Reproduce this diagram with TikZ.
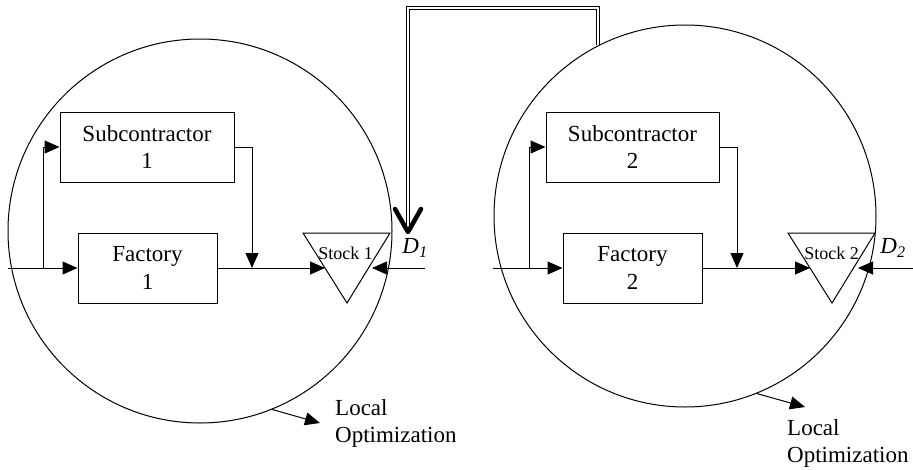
\documentclass[tikz,border=0pt]{standalone}
\usepackage{fontspec}
\setmainfont{Liberation Serif}
\usetikzlibrary{arrows.meta,calc}
\begin{document}
\begin{tikzpicture}[x={(1pt,0)}, y={(0,-1pt)},
  ln/.style={line width=1pt},
  box/.style={draw, line width=1pt, align=center, inner sep=0pt, minimum height=70pt, font=\fontsize{23}{27.6}\selectfont},
  arr/.style={ln, -{Triangle[length=15pt,width=13pt]}},
  lbl/.style={font=\fontsize{23}{27.6}\selectfont, align=left, inner sep=0pt},
  stklbl/.style={font=\fontsize{18}{21}\selectfont, inner sep=0pt},
  dlbl/.style={font=\fontsize{23}{27.6}\selectfont, inner sep=0pt},
  dbl/.style={double, line width=1pt, double distance=2.2pt},
  bigv/.style={line width=4.5pt, line cap=round, line join=round}]
\useasboundingbox (0,0) rectangle (913,469);

% circles
\node[circle, draw, ln, minimum size=384pt, inner sep=0pt] (c1) at (200,231) {};
\node[circle, draw, ln, minimum size=382pt, inner sep=0pt] (c2) at (685,216) {};

% ---------- left system ----------
\node[box, minimum width=174pt] (sub1) at (147,147) {Subcontractor\\1};
\node[box, minimum width=139pt] (fac1) at (147.5,268) {Factory\\1};
\coordinate (stk1a) at (303,233);
\coordinate (stk1b) at (390,233);
\coordinate (stk1c) at (347,303);
\draw[ln] (stk1a) -- (stk1b) -- (stk1c) -- cycle;
\node[stklbl] (stk1) at (345.5,253) {Stock 1};
\coordinate (stk1in) at ($(stk1a)!0.5!(stk1c)$);
\coordinate (stk1d) at (372,268);
\coordinate (in1) at (8,268);
\coordinate (br1) at (43,268);
\coordinate (mg1) at (252,268);
\draw[ln] (in1) -- (br1);
\draw[arr] (br1) -- (fac1.west);
\draw[arr] (br1) |- (sub1.west);
\draw[arr] (sub1.east) -| (mg1);
\draw[arr] (fac1.east) -- (stk1in);
\coordinate (d1s) at (425,268);
\draw[arr] (d1s) -- (stk1d);
\node[dlbl] (d1) at (415,248) {\textit{D}\textsubscript{\textit{1}}};

% ---------- right system ----------
\node[box, minimum width=173pt] (sub2) at (632.5,147) {Subcontractor\\2};
\node[box, minimum width=139pt] (fac2) at (632.5,268) {Factory\\2};
\coordinate (stk2a) at (788,233);
\coordinate (stk2b) at (875,233);
\coordinate (stk2c) at (832,303);
\draw[ln] (stk2a) -- (stk2b) -- (stk2c) -- cycle;
\node[stklbl] (stk2) at (831.5,253) {Stock 2};
\coordinate (stk2in) at ($(stk2a)!0.5!(stk2c)$);
\coordinate (stk2d) at (858,268);
\coordinate (in2) at (493,268);
\coordinate (br2) at (529,268);
\coordinate (mg2) at (737,268);
\draw[ln] (in2) -- (br2);
\draw[arr] (br2) -- (fac2.west);
\draw[arr] (br2) |- (sub2.west);
\draw[arr] (sub2.east) -| (mg2);
\draw[arr] (fac2.east) -- (stk2in);
\coordinate (d2s) at (913,268);
\draw[arr] (d2s) -- (stk2d);
\node[dlbl] (d2) at (893,248) {\textit{D}\textsubscript{\textit{2}}};

% ---------- double connector ----------
\coordinate (dcorner) at (408,8);
\coordinate (dtip) at (408,232);
\draw[dbl] (c2.117) |- (dcorner) -- (dtip);
\draw[bigv] ($(dtip)+(-13,-23)$) -- (dtip) -- ($(dtip)+(13,-23)$);

% ---------- local optimization labels ----------
\node[lbl, anchor=west] (lo1) at (335,423.5) {Local\\Optimization};
\coordinate (lo1tip) at (320,423);
\draw[arr] (c1.-68) -- (lo1tip);
\node[lbl, anchor=west] (lo2) at (787,443.5) {Local\\Optimization};
\coordinate (lo2tip) at (805,407);
\draw[arr] (c2.-68) -- (lo2tip);
\end{tikzpicture}
\end{document}
